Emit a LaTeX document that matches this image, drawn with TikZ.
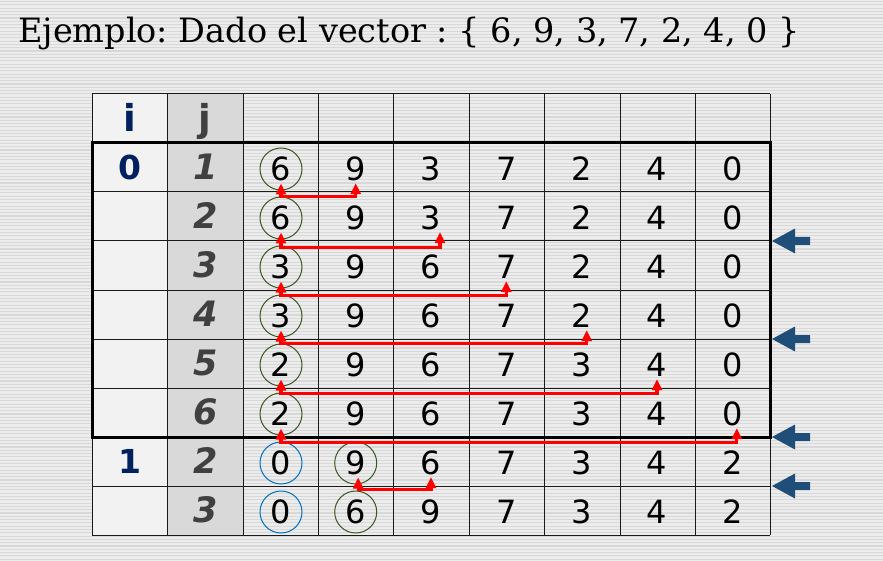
\documentclass[tikz,border=0pt]{standalone}
\usepackage{fontspec}
\setmainfont{DejaVu Serif}
\newfontfamily\cellfont{DejaVu Sans}
\usetikzlibrary{arrows.meta}

\begin{document}
\frenchspacing
\begin{tikzpicture}[x=1pt,y=-1pt,
    val/.style={circle,inner sep=0pt,minimum size=42pt,font=\cellfont\fontsize{32}{32}\selectfont},
    head/.style={inner sep=0pt,font=\cellfont\bfseries\fontsize{37}{37}\selectfont},
    inum/.style={inner sep=0pt,font=\cellfont\bfseries\fontsize{33}{33}\selectfont,text={rgb,255:red,0;green,32;blue,96}},
    jnum/.style={inner sep=0pt,font=\cellfont\bfseries\itshape\fontsize{35}{35}\selectfont,text={rgb,255:red,64;green,64;blue,64}},
    ringg/.style={draw={rgb,255:red,56;green,87;blue,35},line width=1pt},
    ringb/.style={draw={rgb,255:red,0;green,112;blue,192},line width=1pt},
    swap/.style={draw=red,line width=3.2pt,{Triangle[width=10pt,length=11pt]}-{Triangle[width=10pt,length=11pt]}},
    pointer/.style={fill={rgb,255:red,31;green,78;blue,121}},
    grid/.style={draw={rgb,255:red,26;green,26;blue,26},line width=1pt}]
    \useasboundingbox (0,0) rectangle (883,561);
    % fondo rayado
    \fill[color={rgb,255:red,236;green,236;blue,236}] (0,0) rectangle (883,561);
    \foreach \y in {1.5,4.8,...,561}
        \draw[color={rgb,255:red,216;green,216;blue,216},line width=1.1pt] (0,\y) -- (883,\y);

    \node[anchor=base west,inner sep=0pt,font=\fontsize{33.5}{33.5}\selectfont] (title) at (18,43) {Ejemplo: Dado el vector : \{ 6, 9, 3, 7, 2, 4, 0 \}};

    % columnas i, j
    \fill[color={rgb,255:red,242;green,242;blue,242}] (92,94) rectangle (167,535);
    \fill[color={rgb,255:red,217;green,217;blue,217}] (167,94) rectangle (243,535);
    \draw[grid] (92,94) -- (92,535) (167,94) -- (167,535) (243,94) -- (243,535) (318,94) -- (318,535) (393,94) -- (393,535)
        (469,94) -- (469,535) (544,94) -- (544,535) (620,94) -- (620,535) (695,94) -- (695,535) (770,94) -- (770,535);
    \draw[grid] (92,94) -- (770,94) (92,143) -- (770,143) (92,192) -- (770,192) (92,241) -- (770,241) (92,290) -- (770,290)
        (92,339) -- (770,339) (92,388) -- (770,388) (92,437) -- (770,437) (92,486) -- (770,486) (92,535) -- (770,535);
    \draw[line width=3pt] (92,143) rectangle (770,437);

    % cabecera
    \node[head,anchor=base,text={rgb,255:red,0;green,32;blue,96}] (hi) at (129.7,132) {i};
    \node[head,anchor=base,text={rgb,255:red,64;green,64;blue,64}] (hj) at (205,132) {j};
    \node[inum] (i0) at (129.7,167.5) {0};
    \node[inum] (i1) at (129.7,461.5) {1};

    %j=1
    \node[jnum] (j1) at (206,167) {1};
    \node[val,ringg] (v13) at (281,169) {6};
    \node[val] (v14) at (355.7,169) {9};
    \node[val] (v15) at (431,169) {3};
    \node[val] (v16) at (506.3,169) {7};
    \node[val] (v17) at (581.7,169) {2};
    \node[val] (v18) at (657,169) {4};
    \node[val] (v19) at (732.3,169) {0};
    %j=2
    \node[jnum] (j2) at (206,216) {2};
    \node[val,ringg] (v23) at (281,218) {6};
    \node[val] (v24) at (355.7,218) {9};
    \node[val] (v25) at (431,218) {3};
    \node[val] (v26) at (506.3,218) {7};
    \node[val] (v27) at (581.7,218) {2};
    \node[val] (v28) at (657,218) {4};
    \node[val] (v29) at (732.3,218) {0};
    %j=3
    \node[jnum] (j3) at (206,265) {3};
    \node[val,ringg] (v33) at (281,267) {3};
    \node[val] (v34) at (355.7,267) {9};
    \node[val] (v35) at (431,267) {6};
    \node[val] (v36) at (506.3,267) {7};
    \node[val] (v37) at (581.7,267) {2};
    \node[val] (v38) at (657,267) {4};
    \node[val] (v39) at (732.3,267) {0};
    %j=4
    \node[jnum] (j4) at (206,314) {4};
    \node[val,ringg] (v43) at (281,316) {3};
    \node[val] (v44) at (355.7,316) {9};
    \node[val] (v45) at (431,316) {6};
    \node[val] (v46) at (506.3,316) {7};
    \node[val] (v47) at (581.7,316) {2};
    \node[val] (v48) at (657,316) {4};
    \node[val] (v49) at (732.3,316) {0};
    %j=5
    \node[jnum] (j5) at (206,363) {5};
    \node[val,ringg] (v53) at (281,365) {2};
    \node[val] (v54) at (355.7,365) {9};
    \node[val] (v55) at (431,365) {6};
    \node[val] (v56) at (506.3,365) {7};
    \node[val] (v57) at (581.7,365) {3};
    \node[val] (v58) at (657,365) {4};
    \node[val] (v59) at (732.3,365) {0};
    %j=6
    \node[jnum] (j6) at (206,412) {6};
    \node[val,ringg] (v63) at (281,414) {2};
    \node[val] (v64) at (355.7,414) {9};
    \node[val] (v65) at (431,414) {6};
    \node[val] (v66) at (506.3,414) {7};
    \node[val] (v67) at (581.7,414) {3};
    \node[val] (v68) at (657,414) {4};
    \node[val] (v69) at (732.3,414) {0};
    %i=1, j=2
    \node[jnum] (j7) at (206,461) {2};
    \node[val,ringb] (v73) at (281,463) {0};
    \node[val,ringg] (v74) at (355.7,463) {9};
    \node[val] (v75) at (431,463) {6};
    \node[val] (v76) at (506.3,463) {7};
    \node[val] (v77) at (581.7,463) {3};
    \node[val] (v78) at (657,463) {4};
    \node[val] (v79) at (732.3,463) {2};
    %i=1, j=3
    \node[jnum] (j8) at (206,510) {3};
    \node[val,ringb] (v83) at (281,512) {0};
    \node[val,ringg] (v84) at (355.7,512) {6};
    \node[val] (v85) at (431,512) {9};
    \node[val] (v86) at (506.3,512) {7};
    \node[val] (v87) at (581.7,512) {3};
    \node[val] (v88) at (657,512) {4};
    \node[val] (v89) at (732.3,512) {2};

    % intercambios
    \draw[swap] ([yshift=7pt]v13.south) -- ++(0,13) -| ([yshift=7pt]v14.south);
    \draw[swap] ([yshift=7pt]v23.south) -- ++(0,15) -| ([xshift=9pt,yshift=7pt]v25.south);
    \draw[swap] ([yshift=7pt]v33.south) -- ++(0,14) -| ([yshift=7pt]v36.south);
    \draw[swap] ([yshift=7pt]v43.south) -- ++(0,13) -| ([xshift=5pt,yshift=7pt]v47.south);
    \draw[swap] ([yshift=7pt]v53.south) -- ++(0,14) -| ([yshift=7pt]v58.south);
    \draw[swap] ([yshift=7pt]v63.south) -- ++(0,14) -| ([xshift=4.5pt,yshift=7pt]v69.south);
    \draw[swap] ([xshift=2.5pt,yshift=7pt]v74.south) -- ++(0,12) -| ([yshift=7pt]v75.south);

    % flechas azules
    \fill[pointer] (772,241) -- ++(23,-12.5) -- ++(0,8.5) -- ++(15,0) -- ++(0,8) -- ++(-15,0) -- ++(0,8.5) -- cycle;
    \fill[pointer] (772,339) -- ++(23,-12.5) -- ++(0,8.5) -- ++(15,0) -- ++(0,8) -- ++(-15,0) -- ++(0,8.5) -- cycle;
    \fill[pointer] (772,437) -- ++(23,-12.5) -- ++(0,8.5) -- ++(15,0) -- ++(0,8) -- ++(-15,0) -- ++(0,8.5) -- cycle;
    \fill[pointer] (772,486) -- ++(23,-12.5) -- ++(0,8.5) -- ++(15,0) -- ++(0,8) -- ++(-15,0) -- ++(0,8.5) -- cycle;
\end{tikzpicture}
\end{document}
